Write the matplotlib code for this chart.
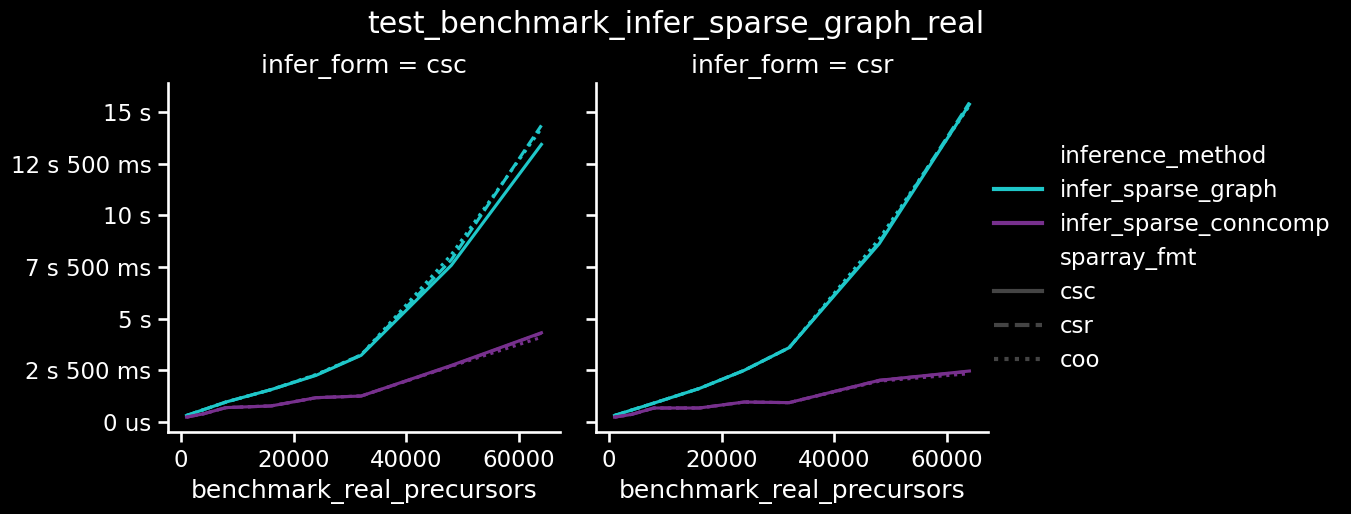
import matplotlib
matplotlib.use("Agg")
import matplotlib.pyplot as plt
from matplotlib.lines import Line2D
from matplotlib.ticker import FixedLocator, FixedFormatter

# ---- data (seconds) ----
precursors = [1000, 4000, 8000, 16000, 24000, 32000, 48000, 64000]
methods = ["infer_sparse_graph", "infer_sparse_conncomp"]
fmts = ["csc", "csr", "coo"]
panels = ["csc", "csr"]

# infer_form = csc
csc_graph_csc = [0.32, 0.60, 0.97, 1.57, 2.26, 3.23, 7.58, 13.43]
csc_graph_csr = [0.32, 0.60, 0.97, 1.57, 2.28, 3.25, 7.85, 14.35]
csc_graph_coo = [0.32, 0.60, 0.97, 1.57, 2.30, 3.25, 8.10, 14.20]
csc_conn_csc = [0.24, 0.40, 0.70, 0.78, 1.18, 1.26, 2.74, 4.32]
csc_conn_csr = [0.24, 0.40, 0.70, 0.78, 1.18, 1.26, 2.72, 4.30]
csc_conn_coo = [0.24, 0.40, 0.70, 0.78, 1.18, 1.26, 2.70, 4.10]

# infer_form = csr
csr_graph_csc = [0.32, 0.58, 0.92, 1.62, 2.50, 3.60, 8.63, 15.37]
csr_graph_csr = [0.32, 0.58, 0.92, 1.62, 2.50, 3.60, 8.70, 15.45]
csr_graph_coo = [0.32, 0.58, 0.92, 1.62, 2.50, 3.60, 8.87, 15.30]
csr_conn_csc = [0.24, 0.37, 0.68, 0.68, 0.97, 0.94, 2.02, 2.47]
csr_conn_csr = [0.24, 0.37, 0.68, 0.68, 0.97, 0.94, 2.02, 2.45]
csr_conn_coo = [0.24, 0.37, 0.68, 0.68, 0.97, 0.94, 1.98, 2.34]

series = {
    "csc": {"infer_sparse_graph": {"csc": csc_graph_csc, "csr": csc_graph_csr, "coo": csc_graph_coo},
            "infer_sparse_conncomp": {"csc": csc_conn_csc, "csr": csc_conn_csr, "coo": csc_conn_coo}},
    "csr": {"infer_sparse_graph": {"csc": csr_graph_csc, "csr": csr_graph_csr, "coo": csr_graph_coo},
            "infer_sparse_conncomp": {"csc": csr_conn_csc, "csr": csr_conn_csr, "coo": csr_conn_coo}},
}

ytick_vals = [0, 2.5, 5, 7.5, 10, 12.5, 15]
ytick_labels = ["0 us", "2 s 500 ms", "5 s", "7 s 500 ms", "10 s", "12 s 500 ms", "15 s"]

colors = {"infer_sparse_graph": "#1fc7c9", "infer_sparse_conncomp": "#77308d"}
styles = {"csc": "-", "csr": (0, (3.5, 1.5)), "coo": (0, (1, 1.5))}

plt.rcParams.update({
    "figure.facecolor": "black", "axes.facecolor": "black",
    "savefig.facecolor": "black",
    "text.color": "white", "axes.labelcolor": "white",
    "xtick.color": "white", "ytick.color": "white",
    "axes.edgecolor": "white", "font.family": "DejaVu Sans",
})

fig = plt.figure(figsize=(13.51, 5.14), dpi=100)
ax_l = fig.add_axes([168 / 1351, 82 / 514, 392 / 1351, 349 / 514])
ax_r = fig.add_axes([596 / 1351, 82 / 514, 392 / 1351, 349 / 514], sharey=ax_l)

for ax, panel in zip([ax_l, ax_r], panels):
    for m in methods:
        for f in fmts:
            ax.plot(precursors, series[panel][m][f], color=colors[m],
                    linestyle=styles[f], linewidth=2.25)
    ax.set_title(f"infer_form = {panel}", fontsize=18, color="white", pad=7)
    ax.set_xlabel("benchmark_real_precursors", fontsize=18, labelpad=5)
    ax.set_xticks([0, 20000, 40000, 60000])
    ax.set_xlim(-2300, 67300)
    for s in ["top", "right"]:
        ax.spines[s].set_visible(False)
    for s in ["left", "bottom"]:
        ax.spines[s].set_linewidth(1.9)
    ax.tick_params(axis="both", labelsize=16.5, length=7, width=1.9, pad=5)

ax_l.set_ylim(-0.48, 16.4)
ax_l.yaxis.set_major_locator(FixedLocator(ytick_vals))
ax_l.yaxis.set_major_formatter(FixedFormatter(ytick_labels))
plt.setp(ax_r.get_yticklabels(), visible=False)

fig.suptitle("test_benchmark_infer_sparse_graph_real", fontsize=21.6, color="white",
             x=676 / 1351, y=0.98)

blank = Line2D([], [], linestyle="none")
handles = [blank,
           Line2D([], [], color=colors["infer_sparse_graph"], linewidth=3),
           Line2D([], [], color=colors["infer_sparse_conncomp"], linewidth=3),
           blank,
           Line2D([], [], color="#444444", linewidth=3, linestyle="-"),
           Line2D([], [], color="#444444", linewidth=3, linestyle=(0, (3.5, 1.5))),
           Line2D([], [], color="#444444", linewidth=3, linestyle=(0, (1, 1.5)))]
labels = ["inference_method"] + methods + ["sparray_fmt"] + fmts
leg = fig.legend(handles, labels, loc="center left", bbox_to_anchor=(973 / 1351, 0.497),
                 frameon=False, fontsize=16.5, handlelength=2.1, labelspacing=0.48,
                 handletextpad=0.8)
for t in leg.get_texts():
    t.set_color("white")

fig.savefig("out.png", dpi=100)
